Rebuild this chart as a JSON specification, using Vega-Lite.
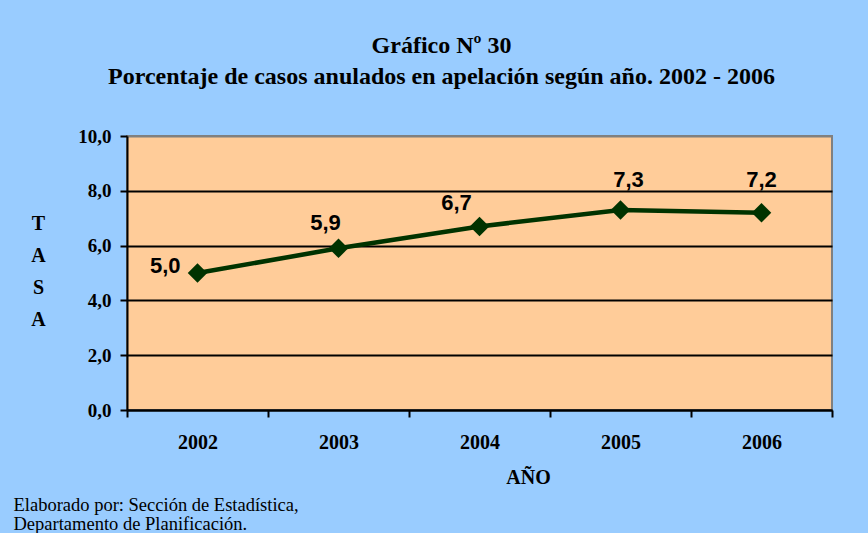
{
  "$schema": "https://vega.github.io/schema/vega-lite/v6.json",
  "width": 705,
  "height": 274,
  "autosize": {"type": "none"},
  "padding": {"left": 127, "top": 136, "right": 36, "bottom": 123},
  "background": "#99CCFF",
  "config": {
    "locale": {"number": {"decimal": ",", "thousands": ".", "grouping": [3], "currency": ["", " €"]}},
    "view": {"fill": "#FFCC99", "stroke": "#808080", "strokeWidth": 2},
    "font": "Liberation Serif"
  },
  "title": {
    "text": ["Gráfico Nº 30", "Porcentaje de casos anulados en apelación según año. 2002 - 2006"],
    "font": "Liberation Serif",
    "fontSize": 24,
    "fontWeight": "bold",
    "color": "black",
    "anchor": "middle",
    "dx": -38,
    "lineHeight": 31,
    "offset": 38
  },
  "data": {
    "values": [
      {"anio": "2002", "tasa": 5.0},
      {"anio": "2003", "tasa": 5.9},
      {"anio": "2004", "tasa": 6.7},
      {"anio": "2005", "tasa": 7.3},
      {"anio": "2006", "tasa": 7.2}
    ]
  },
  "layer": [
    {
      "encoding": {
        "x": {
          "field": "anio",
          "type": "nominal",
          "sort": null,
          "scale": {"paddingInner": 0, "paddingOuter": 0},
          "axis": {
            "title": "AÑO",
            "titleFont": "Liberation Serif",
            "titleFontSize": 20,
            "titleFontWeight": "bold",
            "titleColor": "black",
            "titleX": 401,
            "titleY": 67,
            "titleBaseline": "middle",
            "titleAlign": "center",
            "labelAngle": 0,
            "labelFont": "Liberation Serif",
            "labelFontSize": 20,
            "labelFontWeight": "bold",
            "labelColor": "black",
            "labelPadding": 15,
            "tickBand": "extent",
            "tickSize": 7,
            "tickWidth": 2,
            "tickColor": "black",
            "domainColor": "black",
            "domainWidth": 2,
            "grid": false
          }
        },
        "y": {
          "field": "tasa",
          "type": "quantitative",
          "scale": {"domain": [0, 10], "nice": false},
          "axis": {
            "values": [0, 2, 4, 6, 8, 10],
            "format": ".1f",
            "title": ["T", "A", "S", "A"],
            "titleAngle": 0,
            "titleFont": "Liberation Serif",
            "titleFontSize": 20,
            "titleFontWeight": "bold",
            "titleColor": "black",
            "titleLineHeight": 32,
            "titleX": -89,
            "titleY": 87,
            "titleAlign": "center",
            "titleBaseline": "middle",
            "labelFont": "Liberation Serif",
            "labelFontSize": 19,
            "labelFontWeight": "bold",
            "labelColor": "black",
            "labelPadding": 9,
            "tickSize": 7,
            "tickWidth": 2,
            "tickColor": "black",
            "domainColor": "black",
            "domainWidth": 2,
            "grid": true,
            "gridWidth": 2,
            "gridOpacity": 1,
            "gridColor": {"condition": {"test": "datum.value === 10", "value": "#808080"}, "value": "black"}
          }
        }
      },
      "layer": [
        {"mark": {"type": "line", "color": "#003300", "strokeWidth": 4.5}},
        {"mark": {"type": "point", "shape": "diamond", "size": 380, "filled": true, "color": "#003300", "opacity": 1}},
        {
          "transform": [{"filter": "datum.anio === '2002'"}],
          "mark": {"type": "text", "font": "Liberation Sans", "fontSize": 22, "fontWeight": "bold", "color": "black", "align": "right", "baseline": "alphabetic", "dx": -17, "dy": 0},
          "encoding": {"text": {"field": "tasa", "type": "quantitative", "format": ".1f"}}
        },
        {
          "transform": [{"filter": "datum.anio === '2003'"}],
          "mark": {"type": "text", "font": "Liberation Sans", "fontSize": 22, "fontWeight": "bold", "color": "black", "align": "center", "baseline": "alphabetic", "dx": -13, "dy": -18},
          "encoding": {"text": {"field": "tasa", "type": "quantitative", "format": ".1f"}}
        },
        {
          "transform": [{"filter": "datum.anio === '2004'"}],
          "mark": {"type": "text", "font": "Liberation Sans", "fontSize": 22, "fontWeight": "bold", "color": "black", "align": "center", "baseline": "alphabetic", "dx": -23, "dy": -16},
          "encoding": {"text": {"field": "tasa", "type": "quantitative", "format": ".1f"}}
        },
        {
          "transform": [{"filter": "datum.anio === '2005'"}],
          "mark": {"type": "text", "font": "Liberation Sans", "fontSize": 22, "fontWeight": "bold", "color": "black", "align": "center", "baseline": "alphabetic", "dx": 8, "dy": -23},
          "encoding": {"text": {"field": "tasa", "type": "quantitative", "format": ".1f"}}
        },
        {
          "transform": [{"filter": "datum.anio === '2006'"}],
          "mark": {"type": "text", "font": "Liberation Sans", "fontSize": 22, "fontWeight": "bold", "color": "black", "align": "center", "baseline": "alphabetic", "dx": 0, "dy": -26},
          "encoding": {"text": {"field": "tasa", "type": "quantitative", "format": ".1f"}}
        }
      ]
    },
    {
      "mark": {"type": "point", "opacity": 0},
      "encoding": {
        "x": {"field": "anio", "type": "nominal", "sort": null},
        "y": {
          "field": "tasa",
          "type": "quantitative",
          "axis": {
            "orient": "left",
            "labels": false,
            "ticks": false,
            "domain": false,
            "grid": false,
            "title": ["Elaborado por: Sección de Estadística,", "Departamento de Planificación."],
            "titleAngle": 0,
            "titleFont": "Liberation Serif",
            "titleFontSize": 18.5,
            "titleFontWeight": "normal",
            "titleColor": "black",
            "titleLineHeight": 19,
            "titleAlign": "left",
            "titleBaseline": "alphabetic",
            "titleX": -114,
            "titleY": 374
          }
        }
      }
    }
  ],
  "resolve": {"axis": {"y": "independent"}}
}
